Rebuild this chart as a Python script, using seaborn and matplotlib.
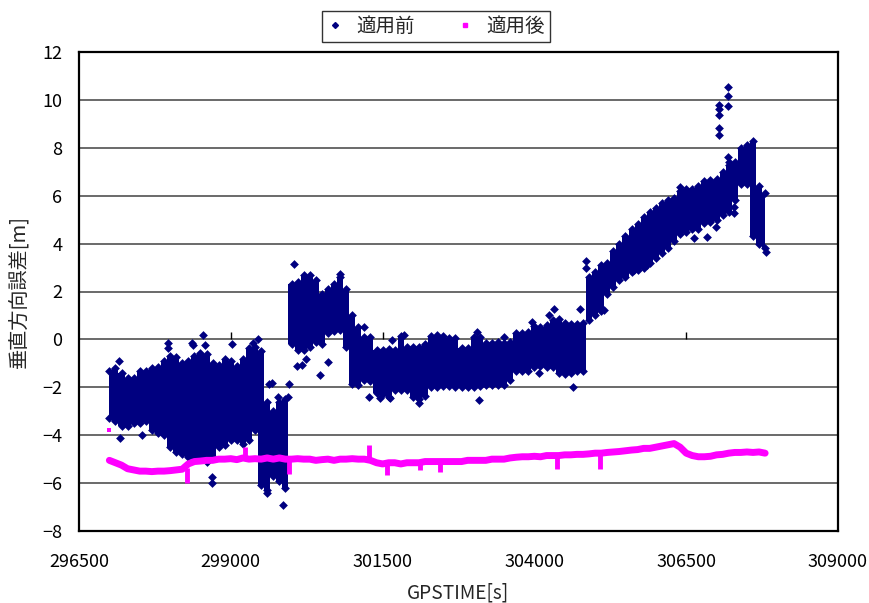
import numpy as np
import pandas as pd
import matplotlib
matplotlib.use("Agg")
import matplotlib.pyplot as plt
import seaborn as sns
from matplotlib.lines import Line2D

NAVY = "#000080"
MAG = "#FF00FF"

# ---- 適用前 (before correction): dense band, read per 100 s bin (low / high) ----
before1_t = list(range(297000, 300000, 100))
before1_lo = [-3.3, -3.4, -3.6, -3.6, -3.5, -3.5, -3.4, -3.8, -3.9, -4.0,
              -4.5, -4.7, -4.8, -4.9, -4.9, -5.0, -5.1, -4.9, -4.5, -4.4,
              -4.2, -4.2, -4.35, -4.2, -3.8, -6.1, -6.3, -5.7, -5.9, -6.2]
before1_hi = [-1.3, -1.2, -1.4, -1.6, -1.6, -1.3, -1.3, -1.2, -1.15, -0.9,
              -0.7, -0.75, -1.0, -0.9, -0.7, -0.55, -0.6, -1.0, -1.05, -0.8,
              -0.9, -1.1, -0.8, -0.35, -0.3, -0.5, -2.6, -3.0, -2.6, -2.5]

before2_t = list(range(300000, 307900, 100))
before2_lo = [-0.2, -0.45, -0.45, -0.3, -0.1, -0.2, 0.25, 0.35, 0.4, -0.3,
              -1.85, -1.9, -1.7, -1.75, -2.25, -2.3, -2.4, -2.1, -2.1, -2.1,
              -2.4, -2.5, -2.35, -2.0, -2.0, -1.95, -1.95, -2.0, -2.0, -2.0,
              -2.0, -1.95, -1.9, -1.9, -1.9, -1.9, -1.7, -1.3, -1.3, -1.3,
              -1.15, -1.1, -1.15, -1.15, -1.4, -1.45, -1.4, -1.3, -1.3, 0.8,
              1.0, 1.2, 1.9, 2.2, 2.5, 2.6, 2.8, 2.9, 3.0, 3.2,
              3.4, 3.6, 3.8, 4.1, 4.4, 4.5, 4.6, 4.6, 4.85, 4.9,
              5.0, 5.2, 5.3, 5.8, 6.5, 6.5, 4.3, 4.0, 3.8]
before2_hi = [2.3, 2.4, 2.7, 2.7, 2.5, 1.9, 2.1, 2.3, 2.6, 2.1,
              1.0, 0.5, 0.1, 0.1, -0.45, -0.45, -0.4, -0.45, 0.15, -0.3,
              -0.3, -0.3, -0.2, 0.15, 0.2, 0.15, 0.05, 0.05, -0.35, -0.35,
              0.1, 0.1, -0.17, -0.17, -0.1, -0.17, -0.1, 0.25, 0.25, 0.3,
              0.55, 0.5, 0.6, 0.8, 0.85, 0.7, 0.65, 0.65, 0.7, 2.6,
              2.8, 3.1, 3.2, 3.7, 4.0, 4.3, 4.6, 4.8, 5.1, 5.3,
              5.5, 5.7, 5.8, 5.9, 6.2, 6.3, 6.3, 6.4, 6.6, 6.65,
              6.7, 7.0, 7.3, 7.4, 8.0, 8.1, 8.3, 6.4, 6.1]

# isolated points of 適用前
outlier_t = [297159, 297176, 297533, 297970, 297970, 298357, 298380, 298549, 298570, 298687, 298687,
             299016, 299455, 299373, 299623, 299680, 299780, 299937, 299966, 299867, 299593,
             300043, 300087, 300170, 300241, 300461, 300609, 300801,
             301186, 301268, 301460, 301625, 301653, 301856, 302092, 303054, 303081,
             303492, 303960, 304070, 304234, 304317, 304636, 304757, 304855, 304855, 305141,
             305636, 305855, 306405, 306624, 306844, 306997, 307283, 307283,
             307047, 307047, 307047, 307047, 307047, 307190, 307190, 307190, 307190, 307210, 307806]
outlier_v = [-0.9, -4.1, -4.0, -0.14, -0.37, -0.16, -0.23, 0.18, -0.23, -6.0, -5.73,
             -0.19, 0.0, -0.16, -1.85, -1.8, -2.4, -2.4, -1.85, -6.9, -6.4,
             3.13, -1.1, -1.07, -0.8, -1.5, -0.94, 2.72,
             0.52, -2.4, -2.46, -2.46, -0.02, 0.18, -2.67, 0.32, -2.53,
             0.1, 0.74, -1.42, 1.01, 1.29, -2.0, 1.29, 3.29, 2.97, 1.22,
             2.9, 3.11, 6.37, 4.22, 4.29, 4.71, 5.26, 5.54,
             9.79, 9.6, 9.37, 8.81, 8.53, 10.53, 10.16, 9.74, 7.63, 7.42, 3.66]

# ---- 適用後 (after correction) ----
after_t = list(range(297000, 307900, 100))
after_v = [-5.05, -5.15, -5.25, -5.4, -5.45, -5.5, -5.5, -5.52, -5.5, -5.5,
           -5.48, -5.45, -5.42, -5.2, -5.1, -5.08, -5.05, -5.05, -5.0, -5.0,
           -4.98, -5.02, -4.95, -5.0, -4.98, -5.0, -4.95, -5.0, -4.95, -5.0,
           -5.0, -4.98, -5.0, -5.0, -5.05, -5.02, -5.0, -5.05, -5.0, -5.0,
           -4.98, -5.0, -5.0, -5.05, -5.15, -5.2, -5.15, -5.15, -5.2, -5.15,
           -5.15, -5.15, -5.1, -5.1, -5.1, -5.1, -5.1, -5.1, -5.1, -5.05,
           -5.05, -5.05, -5.05, -5.0, -5.0, -5.0, -4.95, -4.92, -4.9, -4.9,
           -4.88, -4.9, -4.85, -4.85, -4.85, -4.82, -4.82, -4.8, -4.8, -4.78,
           -4.75, -4.75, -4.72, -4.7, -4.68, -4.65, -4.62, -4.6, -4.55, -4.55,
           -4.5, -4.45, -4.4, -4.35, -4.5, -4.75, -4.85, -4.9, -4.9, -4.88,
           -4.82, -4.8, -4.75, -4.72, -4.72, -4.7, -4.72, -4.7, -4.75]
spike_t = [298275, 299236, 299960, 301270, 301571, 302120, 302449, 304372, 305086]
spike_v = [-6.0, -4.5, -5.6, -4.4, -5.66, -5.45, -5.52, -5.4, -5.4]
spike_base = [-5.35, -4.97, -4.98, -5.02, -5.18, -5.15, -5.1, -4.85, -4.75]
after_extra_t = [297000]
after_extra_v = [-3.8]

x_ticks = [296500, 299000, 301500, 304000, 306500, 309000]
y_ticks = [-8, -6, -4, -2, 0, 2, 4, 6, 8, 10, 12]
legend_labels = ["適用前", "適用後"]

sns.set_style("white")
plt.rcParams["font.family"] = ["Noto Sans CJK JP", "DejaVu Sans"]

fig = plt.figure(figsize=(8.69, 6.03), dpi=100)
ax = fig.add_axes([79 / 869, 1 - 531 / 603, (838 - 79) / 869, (531 - 52) / 603])

# dense core of 適用前 (one seamless stepped band)
band_t = np.array(before1_t + before2_t)
band_lo = np.array(before1_lo + before2_lo)
band_hi = np.array(before1_hi + before2_hi)
ax.fill_between(band_t, band_lo, band_hi, step="mid", color=NAVY, linewidth=0,
                zorder=3)
edge = pd.DataFrame({"t": list(band_t) * 2, "v": list(band_lo) + list(band_hi)})
sns.scatterplot(data=edge, x="t", y="v", marker="D", s=20, color=NAVY,
                linewidth=0, ax=ax, zorder=3, legend=False)

out_df = pd.DataFrame({"t": outlier_t, "v": outlier_v})
sns.scatterplot(data=out_df, x="t", y="v", marker="D", s=20, color=NAVY,
                linewidth=0, ax=ax, zorder=3, legend=False)

# 適用後
after_df = pd.DataFrame({"t": after_t, "v": after_v})
sns.lineplot(data=after_df, x="t", y="v", color=MAG, linewidth=5, ax=ax, zorder=4)
ax.vlines(spike_t, spike_base, spike_v, color=MAG, linewidth=3.5, zorder=4)
sns.scatterplot(x=after_extra_t, y=after_extra_v, marker="s", s=12, color=MAG,
                linewidth=0, ax=ax, zorder=4, legend=False)

# small axis ticks on the y=0 line
ax.vlines(x_ticks[1:-1], 0, 0.3, color="black", linewidth=1, zorder=2)

ax.set_xlim(296500, 309000)
ax.set_ylim(-8, 12)
ax.set_xticks(x_ticks)
ax.set_yticks(y_ticks)
ax.set_xticklabels([str(v) for v in x_ticks])
ax.set_yticklabels([str(v).replace("-", "\u2212") for v in y_ticks])
ax.yaxis.grid(True, color="#505050", linewidth=1.2)
ax.xaxis.grid(False)
ax.set_axisbelow(True)
ax.tick_params(axis="both", length=0, labelsize=13, colors="black")
ax.tick_params(axis="x", pad=16)
ax.tick_params(axis="y", pad=12)
for s in ax.spines.values():
    s.set_visible(True)
    s.set_color("black")
    s.set_linewidth(1.6)

ax.set_xlabel("GPSTIME[s]", fontsize=13.8)
ax.set_ylabel("垂直方向誤差[m]", fontsize=14.5)
ax.xaxis.set_label_coords(0.5, (531 - 583) / 479)
ax.yaxis.set_label_coords((30 - 79) / 759, 0.5)

handles = [Line2D([], [], marker="D", color=NAVY, linestyle="", markersize=3),
           Line2D([], [], marker="s", color=MAG, linestyle="", markersize=3)]
leg = fig.legend(handles, legend_labels, loc="center",
                 bbox_to_anchor=(436 / 869, 1 - 26.5 / 603), ncol=2, frameon=True,
                 fancybox=False, edgecolor="black", fontsize=14, handlelength=0.8,
                 columnspacing=2.2, handletextpad=0.7, borderpad=0.25)
leg.get_frame().set_linewidth(1.0)

fig.savefig("out.png", dpi=100)
